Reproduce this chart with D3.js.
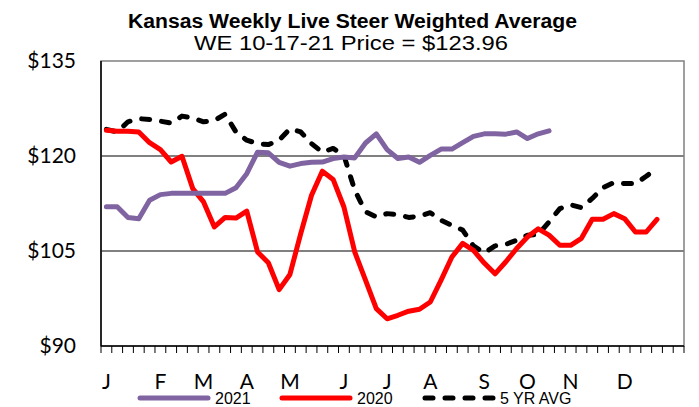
<!DOCTYPE html>
<html>
<head>
<meta charset="utf-8">
<script src="https://cdn.jsdelivr.net/npm/d3@7"></script>
<style>
  body { margin: 0; background: #fff; }
  svg { display: block; }
</style>
</head>
<body>
<svg id="chart" width="699" height="407"></svg>
<script>
// weekly prices, $/cwt
var weeks = d3.range(1, 55);
var monthLabels = [[0, "J"], [5, "F"], [9, "M"], [13, "A"], [17, "M"], [22, "J"],
  [26, "J"], [30, "A"], [35, "S"], [39, "O"], [43, "N"], [48, "D"]];
var yTicks = [90, 105, 120, 135];

var price2021 = [112.0, 112.0, 110.3, 110.1, 113.0, 113.9, 114.1, 114.1, 114.1, 114.1,
  114.1, 114.1, 115.0, 117.2, 120.6, 120.5, 119.0, 118.4, 118.8, 119.0,
  119.05, 119.6, 119.85, 119.7, 122.05, 123.5, 121.0, 119.6, 119.85, 119.0,
  120.1, 121.1, 121.1, 122.1, 123.1, 123.5, 123.5, 123.45, 123.8, 122.75,
  123.5, 123.96];

var price2020 = [124.05, 123.9, 123.9, 123.8, 122.1, 121.0, 119.05, 119.95, 114.85, 112.75,
  108.8, 110.3, 110.2, 111.3, 104.85, 103.15, 98.9, 101.3, 107.75, 113.8,
  117.6, 116.3, 111.95, 104.85, 100.4, 95.9, 94.3, 94.85, 95.5, 95.8,
  96.95, 100.4, 104.05, 106.2, 105.1, 103.1, 101.4, 103.3, 105.4, 107.2,
  108.5, 107.5, 105.9, 105.9, 107.0, 110.0, 110.0, 110.9, 110.1, 108.0,
  108.0, 110.0];

var avg5yr = [124.2, 123.8, 125.4, 125.9, 125.75, 125.5, 125.2, 126.3, 126.0, 125.4,
  125.6, 126.6, 123.8, 122.5, 121.95, 121.8, 122.5, 124.3, 123.8, 121.95,
  120.6, 121.2, 120.1, 114.6, 111.2, 110.4, 110.9, 110.75, 110.3, 110.5,
  111.05, 109.85, 109.05, 108.3, 105.8, 104.7, 105.8, 106.05, 106.7, 107.5,
  107.6, 109.6, 111.7, 112.3, 111.85, 113.3, 115.0, 115.8, 115.65, 115.65,
  116.8, 118.1];

var svg = d3.select("#chart");
var plotLeft = 101, plotRight = 684, plotTop = 61, plotBottom = 346;

var x = d3.scaleBand().domain(weeks).range([plotLeft, plotRight]);
var y = d3.scaleLinear().domain([90, 135]).range([plotBottom, plotTop]);

var cx = function(d, i) { return x(weeks[i]) + x.bandwidth() / 2; };

// title
svg.append("text")
  .attr("x", 128).attr("y", 27.5)
  .attr("textLength", 449)
  .attr("lengthAdjust", "spacingAndGlyphs")
  .style("font-family", "Liberation Sans, Arial, sans-serif")
  .style("font-weight", "bold")
  .style("font-size", "19.5px")
  .text("Kansas Weekly Live Steer Weighted Average");
svg.append("text")
  .attr("x", 194).attr("y", 49.5)
  .attr("textLength", 314)
  .attr("lengthAdjust", "spacingAndGlyphs")
  .style("font-family", "Liberation Sans, Arial, sans-serif")
  .style("font-size", "21px")
  .text("WE 10-17-21 Price = $123.96");

// plot frame + gridlines
svg.append("rect")
  .attr("x", plotLeft).attr("y", plotTop)
  .attr("width", plotRight - plotLeft).attr("height", plotBottom - plotTop)
  .attr("fill", "none").attr("stroke", "#808080").attr("stroke-width", 1.5);

svg.selectAll(".grid")
  .data(yTicks.filter(function(d) { return d > 90 && d < 135; }))
  .enter().append("line")
  .attr("class", "grid")
  .attr("x1", plotLeft).attr("x2", plotRight)
  .attr("y1", function(d) { return y(d); })
  .attr("y2", function(d) { return y(d); })
  .attr("stroke", "#808080").attr("stroke-width", 2);

// y labels
svg.selectAll(".ylab")
  .data(yTicks)
  .enter().append("text")
  .attr("class", "ylab")
  .attr("x", 76)
  .attr("y", function(d) { return y(d) + 7; })
  .attr("text-anchor", "end")
  .style("font-family", "Lato, Carlito, sans-serif")
  .style("font-size", "21px")
  .text(function(d) { return "$" + d; });

// x ticks at category edges
var edges = weeks.map(function(w) { return x(w); }).concat([plotRight]);
svg.selectAll(".xtick")
  .data(edges)
  .enter().append("line")
  .attr("class", "xtick")
  .attr("x1", function(d) { return d; }).attr("x2", function(d) { return d; })
  .attr("y1", plotBottom).attr("y2", plotBottom + 7)
  .attr("stroke", "#000").attr("stroke-width", 1);

svg.selectAll(".mlab")
  .data(monthLabels)
  .enter().append("text")
  .attr("class", "mlab")
  .attr("x", function(d) { return x(weeks[d[0]]) + x.bandwidth() / 2; })
  .attr("y", 389)
  .attr("text-anchor", "middle")
  .style("font-family", "Lato, Carlito, sans-serif")
  .style("font-size", "21px")
  .text(function(d) { return d[1]; });

// axes lines
svg.append("line").attr("x1", plotLeft).attr("x2", plotLeft).attr("y1", plotTop).attr("y2", plotBottom)
  .attr("stroke", "#000").attr("stroke-width", 1.5);
svg.append("line").attr("x1", plotLeft).attr("x2", plotRight).attr("y1", plotBottom).attr("y2", plotBottom)
  .attr("stroke", "#000").attr("stroke-width", 1.5);

var line = d3.line()
  .x(cx)
  .y(function(d) { return y(d); });

var series = [
  { name: "5 YR AVG", values: avg5yr, color: "#000", dash: "8,12" },
  { name: "2020", values: price2020, color: "#ff0000", dash: null },
  { name: "2021", values: price2021, color: "#8064a2", dash: null }
];

series.forEach(function(s) {
  svg.append("path")
    .datum(s.values)
    .attr("d", line)
    .attr("fill", "none")
    .attr("stroke", s.color)
    .attr("stroke-width", 5)
    .attr("stroke-linejoin", "round")
    .attr("stroke-linecap", "round")
    .attr("stroke-dasharray", s.dash);
});

// legend
var legendItems = [
  { name: "2021", color: "#8064a2", dash: null, x0: 140 },
  { name: "2020", color: "#ff0000", dash: null, x0: 282 },
  { name: "5 YR AVG", color: "#000", dash: "8,12", x0: 425 }
];
var lg = svg.selectAll(".legend")
  .data(legendItems)
  .enter().append("g")
  .attr("class", "legend");
lg.append("line")
  .attr("x1", function(d) { return d.x0; })
  .attr("x2", function(d) { return d.x0 + 68; })
  .attr("y1", 398).attr("y2", 398)
  .attr("stroke", function(d) { return d.color; })
  .attr("stroke-width", 5)
  .attr("stroke-linecap", "round")
  .attr("stroke-dasharray", function(d) { return d.dash; });
lg.append("text")
  .attr("x", function(d) { return d.x0 + 75; })
  .attr("y", 404)
  .style("font-family", "Liberation Sans, Arial, sans-serif")
  .style("font-size", "16px")
  .text(function(d) { return d.name; });
</script>
</body>
</html>
